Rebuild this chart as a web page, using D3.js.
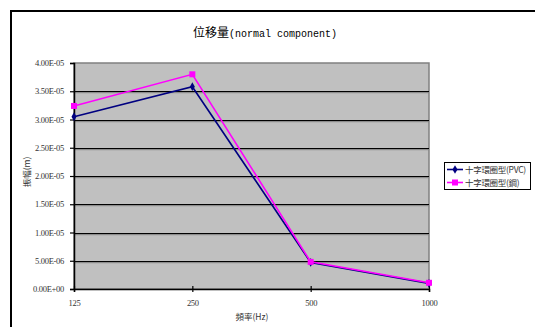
<!DOCTYPE html>
<html>
<head>
<meta charset="utf-8">
<script src="https://cdn.jsdelivr.net/npm/d3@7/dist/d3.min.js"></script>
<style>
  html, body { margin: 0; padding: 0; background: #fff; }
  svg { display: block; }
</style>
</head>
<body>
<svg id="chart" width="535" height="327"></svg>
<script>
// Frequency categories (Hz)
const categories = ["125", "250", "500", "1000"];
// Displacement amplitude (m) per frequency
const pvcValues = [3.05e-5, 3.58e-5, 4.7e-6, 1.0e-6];
const steelValues = [3.24e-5, 3.80e-5, 4.8e-6, 1.1e-6];
const seriesNames = ["十字環圈型(PVC)", "十字環圈型(鋼)"];
const yTicks = [0, 5e-6, 1e-5, 1.5e-5, 2e-5, 2.5e-5, 3e-5, 3.5e-5, 4e-5];

const svg = d3.select("#chart");
const plot = { left: 74, top: 63, right: 429, bottom: 289 };

// outer frame (left and top edges visible)
svg.append("path")
  .attr("d", "M11,327 L11,11 L535,11")
  .attr("fill", "none").attr("stroke", "#000").attr("stroke-width", 2);

// title: CJK glyphs full width, latin in half-width monospace
const title = svg.append("text").attr("x", 265).attr("y", 37).attr("text-anchor", "middle").attr("fill", "#000");
title.append("tspan").attr("font-family", "'Noto Sans CJK TC'").attr("font-size", 12).text("位移量");
title.append("tspan").attr("font-family", "'Liberation Mono'").attr("font-size", 10).text("(normal component)");

const x = d3.scalePoint().domain(categories).range([plot.left, plot.right]);
const y = d3.scaleLinear().domain([0, 4e-5]).range([plot.bottom, plot.top]);

// plot background
svg.append("rect")
  .attr("x", plot.left).attr("y", plot.top)
  .attr("width", plot.right - plot.left).attr("height", plot.bottom - plot.top)
  .attr("fill", "#c0c0c0").attr("stroke", "#808080").attr("stroke-width", 1.5);

// horizontal gridlines
svg.append("g").selectAll("line")
  .data(yTicks.filter(d => d > 0 && d < 4e-5))
  .join("line")
  .attr("x1", plot.left).attr("x2", plot.right)
  .attr("y1", d => Math.round(y(d)) + 0.5).attr("y2", d => Math.round(y(d)) + 0.5)
  .attr("stroke", "#000").attr("stroke-width", 1.2);
svg.append("g").selectAll("line")
  .data(yTicks.filter(d => d > 0 && d < 4e-5))
  .join("line")
  .attr("x1", plot.left).attr("x2", plot.right)
  .attr("y1", d => Math.round(y(d)) + 1.7).attr("y2", d => Math.round(y(d)) + 1.7)
  .attr("stroke", "#808080").attr("stroke-width", 1);

// y axis
const yAxis = d3.axisLeft(y).tickValues(yTicks).tickSize(4).tickPadding(6)
  .tickFormat(d => {
    const s = d3.format(".2e")(d).toUpperCase();
    const m = s.match(/^([\d.]+)E([+-])(\d+)$/);
    return m[1] + "E" + m[2] + m[3].padStart(2, "0");
  });
const gy = svg.append("g").attr("transform", `translate(${plot.left},0)`).call(yAxis);
gy.select(".domain").attr("stroke", "#000").attr("stroke-width", 1.5);
gy.selectAll(".tick line").attr("stroke", "#000").attr("stroke-width", 1.2);
gy.selectAll(".tick text").attr("font-family", "'Liberation Serif'").attr("font-size", 8.5)
  .attr("fill", "#333").attr("letter-spacing", -0.3);

// x axis
const xAxis = d3.axisBottom(x).tickSize(3).tickPadding(8);
const gx = svg.append("g").attr("transform", `translate(0,${plot.bottom})`).call(xAxis);
gx.select(".domain").attr("stroke", "#000").attr("stroke-width", 1.5);
gx.selectAll(".tick line").attr("y1", -3).attr("stroke", "#000").attr("stroke-width", 1.2);
gx.selectAll(".tick text").attr("font-family", "'Liberation Serif'").attr("font-size", 8.5)
  .attr("fill", "#333").attr("letter-spacing", -0.3);

// axis titles
svg.append("text").attr("transform", "translate(30,172) rotate(-90)")
  .attr("text-anchor", "middle").attr("font-family", "'Noto Sans CJK TC'").attr("font-size", 8.5)
  .attr("fill", "#333").text("振幅(m)");
svg.append("text").attr("x", 252).attr("y", 320)
  .attr("text-anchor", "middle").attr("font-family", "'Noto Sans CJK TC'").attr("font-size", 8.5)
  .attr("fill", "#333").text("頻率(Hz)");

const line = d3.line().x((d, i) => x(categories[i])).y(d => y(d));
const series = [
  { name: seriesNames[0], values: pvcValues, color: "#000080", shape: d3.symbolDiamond, size: 22 },
  { name: seriesNames[1], values: steelValues, color: "#ff00ff", shape: d3.symbolSquare, size: 36 }
];

series.forEach(s => {
  svg.append("path").datum(s.values).attr("d", line)
    .attr("fill", "none").attr("stroke", s.color).attr("stroke-width", 1.6);
});
series.forEach(s => {
  svg.append("g").selectAll("path").data(s.values).join("path")
    .attr("transform", (d, i) => `translate(${x(categories[i])},${y(d)})`)
    .attr("d", d3.symbol().type(s.shape).size(s.size))
    .attr("fill", s.color);
});

// legend
const lg = svg.append("g");
lg.append("rect").attr("x", 444.5).attr("y", 162.5).attr("width", 86).attr("height", 27)
  .attr("fill", "#fff").attr("stroke", "#000").attr("stroke-width", 1);
series.forEach((s, i) => {
  const ly = 169.5 + i * 13;
  lg.append("line").attr("x1", 447).attr("x2", 463).attr("y1", ly).attr("y2", ly)
    .attr("stroke", s.color).attr("stroke-width", 1.6);
  lg.append("path").attr("transform", `translate(455,${ly})`)
    .attr("d", d3.symbol().type(s.shape).size(s.size)).attr("fill", s.color);
  lg.append("text").attr("x", 465).attr("y", ly + 3).attr("font-family", "'Noto Sans CJK TC'")
    .attr("font-size", 8.5).attr("fill", "#333").attr("letter-spacing", -0.3).text(s.name);
});
</script>
</body>
</html>
